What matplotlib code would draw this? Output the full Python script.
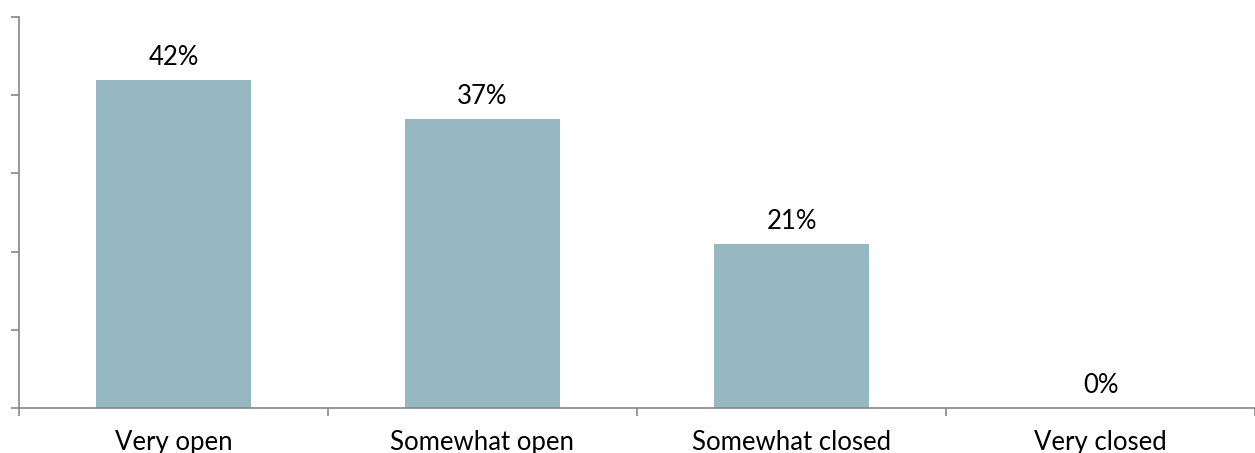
import matplotlib
matplotlib.use("Agg")
import matplotlib.pyplot as plt
import numpy as np

categories = ["Very open", "Somewhat open", "Somewhat closed", "Very closed"]
values = [42, 37, 21, 0]

plt.rcParams['font.family'] = ['Lato', 'DejaVu Sans']

fig = plt.figure(figsize=(12.55, 4.53), dpi=100)
ax = fig.add_axes([19/1255, 1 - 408/453, 1 - 19/1255, (408 - 17)/453])

x = np.arange(len(categories))
bars = ax.bar(x, values, width=0.5, color='#95B8C1')

for xi, v in zip(x, values):
    ax.annotate(f"{v}%", (xi, v), xytext=(0, 7), textcoords='offset points',
                ha='center', va='bottom', fontsize=18.5, color='black')

ax.set_xlim(-0.5, 3.45)
ax.set_ylim(0, 50)

gray = '#868686'
for s in ['top', 'right']:
    ax.spines[s].set_visible(False)
for s in ['left', 'bottom']:
    ax.spines[s].set_color(gray)
    ax.spines[s].set_linewidth(1.2)

ax.set_yticks(np.arange(0, 51, 10))
ax.set_yticklabels([])
ax.tick_params(axis='y', length=6, color=gray, width=1.2)

ax.set_xticks(x)
ax.set_xticklabels(categories, fontsize=18.5)
ax.tick_params(axis='x', which='major', length=0, pad=16)
ax.set_xticks(np.arange(-0.5, 3.6, 1), minor=True)
ax.tick_params(axis='x', which='minor', length=6, color=gray, width=1.2)

fig.savefig('out.png', dpi=100)
